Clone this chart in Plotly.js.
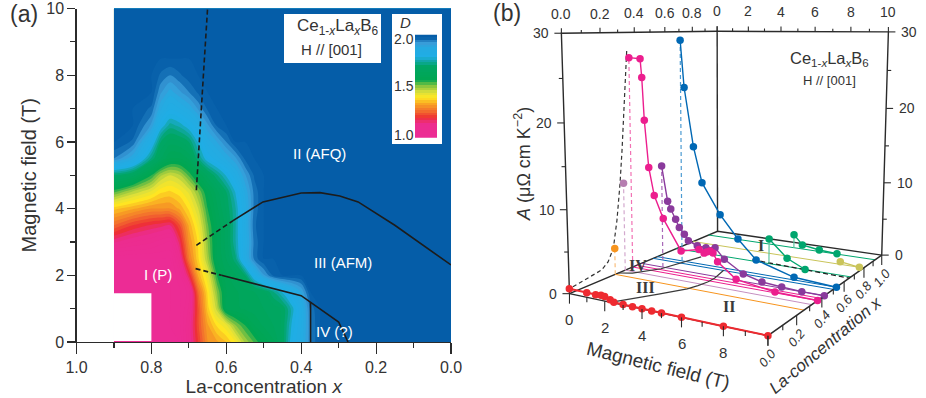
<!DOCTYPE html><html><head><meta charset="utf-8"><script src="https://cdn.plot.ly/plotly-3.0.1.min.js"></script>
<style>html,body{margin:0;padding:0;background:#fff}#g{width:926px;height:398px}</style></head><body><div id="g"></div>
<script>
// ---------- panel (a): D(x, H)
const mapX=[0.9,0.85,0.8,0.775,0.75,0.725,0.7,0.675,0.65,0.625,0.6,0.575,0.55,0.525,0.5,0.475,0.45,0.425,0.4,0.375,0.35,0];
const mapH=[0,0.5,1,1.5,2,2.5,3,3.5,4,4.5,5,5.5,6,6.5,7,7.5,8,8.5,10];
const mapD=[
[1,1,1,1,1,1,1.1,1.2,1.3,1.32,1.35,1.4,1.48,1.53,1.58,1.62,1.68,1.8,1.86,1.95,2,2],
[1,1,1,1,1,1.02,1.1,1.22,1.32,1.38,1.42,1.5,1.55,1.6,1.63,1.65,1.68,1.78,1.85,1.95,2,2],
[1,1,1,1,1,1.02,1.08,1.22,1.36,1.46,1.6,1.62,1.63,1.64,1.65,1.66,1.68,1.76,1.85,1.96,2,2],
[1,1,1,1,1,1.02,1.06,1.25,1.38,1.5,1.6,1.62,1.64,1.65,1.67,1.72,1.78,1.84,1.9,2,2,2],
[1,1,1,1,1,1.04,1.17,1.33,1.42,1.55,1.62,1.65,1.7,1.82,1.92,1.98,2,2,2,2,2,2],
[1,1,1,1,1,1.1,1.27,1.37,1.48,1.6,1.65,1.72,1.85,1.96,2,2,2,2,2,2,2,2],
[1.13,1.1,1.08,1.06,1.05,1.16,1.3,1.38,1.5,1.6,1.66,1.75,1.85,1.96,2,2,2,2,2,2,2,2],
[1.25,1.2,1.17,1.16,1.15,1.22,1.33,1.41,1.52,1.6,1.66,1.75,1.86,1.97,2,2,2,2,2,2,2,2],
[1.36,1.33,1.3,1.3,1.3,1.33,1.38,1.45,1.55,1.62,1.68,1.75,1.86,1.96,2,2,2,2,2,2,2,2],
[1.53,1.47,1.42,1.38,1.37,1.39,1.43,1.5,1.58,1.64,1.7,1.78,1.88,1.96,2,2,2,2,2,2,2,2],
[1.7,1.66,1.55,1.48,1.45,1.47,1.53,1.6,1.66,1.72,1.78,1.85,1.92,1.98,2,2,2,2,2,2,2,2],
[1.95,1.88,1.72,1.65,1.6,1.6,1.63,1.72,1.8,1.84,1.88,1.92,1.98,2,2,2,2,2,2,2,2,2],
[2,1.97,1.82,1.7,1.66,1.67,1.7,1.78,1.86,1.9,1.95,2,2,2,2,2,2,2,2,2,2,2],
[2,2,1.92,1.8,1.74,1.76,1.8,1.85,1.92,1.98,2,2,2,2,2,2,2,2,2,2,2,2],
[2,2,1.97,1.88,1.83,1.85,1.88,1.93,1.98,2,2,2,2,2,2,2,2,2,2,2,2,2],
[2,2,2,1.93,1.89,1.92,1.95,1.98,2,2,2,2,2,2,2,2,2,2,2,2,2,2],
[2,2,2,1.97,1.95,1.97,1.99,2,2,2,2,2,2,2,2,2,2,2,2,2,2,2],
[2,2,2,2,2,2,2,2,2,2,2,2,2,2,2,2,2,2,2,2,2,2],
[2,2,2,2,2,2,2,2,2,2,2,2,2,2,2,2,2,2,2,2,2,2]];
const barLevels=[1,1.025,1.05,1.075,1.1,1.125,1.15,1.175,1.2,1.225,1.25,1.275,1.3,1.325,1.35,1.375,1.4,1.425,1.45,1.475,1.5,1.525,1.55,1.575,1.6,1.625,1.65,1.675,1.7,1.725,1.75,1.775,1.8,1.825,1.85,1.875,1.9,1.925,1.95,1.975,2];
const dScale=[[0,'#EC2C95'],[0.13,'#EC2C8E'],[0.19,'#EE3033'],[0.25,'#F26A2E'],[0.32,'#F8A023'],[0.39,'#FFE822'],[0.44,'#DDE03A'],[0.5,'#8DC63F'],[0.56,'#00A651'],[0.7,'#00A665'],[0.75,'#12A7A8'],[0.79,'#1FAEE6'],[0.88,'#25AAE1'],[0.93,'#3A9BD8'],[0.97,'#0B66AE'],[1,'#055DA8']];
// phase boundaries (x, H)
const afmDashX=[0.68,0.582],afmDashH=[2.9,3.64];
const afmX=[0.582,0.502,0.4,0.35,0.297,0.248,0.15,0],afmH=[3.64,4.2,4.47,4.48,4.38,4.2,3.5,2.31];
const lowDashX=[0.682,0.613],lowDashH=[2.2,2.0];
const lowX=[0.613,0.4,0.3,0.275],lowH=[2.0,1.39,0.6,0];
const ivX=[0.375,0.375],ivH=[0,1.2];
const afqDashX=[0.68,0.67,0.662,0.65],afqDashH=[4.55,6.25,7.85,10];
// ---------- panel (b): A(H) at fixed x
const redX=0,redH=[0,1,1.5,1.8,2,2.3,2.5,3,3.5,4,4.5,5,6,8,10],redA=[0.6,0.55,0.53,0.6,0.55,0.3,0.1,0.05,0.04,0.03,0.02,0.02,0.01,0.01,0];
const orangeX=0.256,orangeH=[0],orangeA=[3.34];
const paleX=0.317,paleH=[0],paleA=[11.3];
const pinkX=0.364,pinkH=[0,0.66,0.74,0.85,1.07,1.37,1.88,2.89,3.9,4.18,4.33,4.51,4.67,4.92,5.91,7.92,10],pinkA=[26.9,26.8,24.5,19.2,13.3,9.8,7,3.2,3.75,3.4,3.6,3.8,3.6,2.6,0.8,0.1,0];
const purpleX=0.421,purpleH=[1.31,1.64,1.82,2.1,2.31,2.6,2.83,3.34,3.83,4.34,4.85,5.88,6.87,7.89,8.9,10],purpleA=[13.25,8.78,7.83,6.6,5.58,4.79,4.04,3.57,3.49,3.68,2.39,0.93,0.34,0.15,0.01,0];
const blueX=0.528,blueH=[1.54,1.75,2.27,2.76,3.8,4.81,5.82,7.85,10],blueA=[29,23,15.45,10.86,6.96,4.12,1.76,0.34,0];
const greenX=0.666,greenH=[5.6,6.61,7.6],greenA=[3.32,1.11,0];
const oliveX=0.796,oliveH=[8.76,9.78],oliveA=[0.36,0];
const teal2X=0.923,teal2H=[5.4,5.9,6.89,7.9],teal2A=[1.88,0.57,0.21,0.06];
const wallX=[0.019,0.084,0.177,0.215,0.248,0.273,0.296,0.312,0.33,0.352],wallA=[0.66,0.87,1.27,1.96,3.44,6.87,11.4,15.53,21.72,27.85];
const colRed='#EE2A30',colOrange='#F7941D',colPale='#B57EB0',colPink='#EC1E8E',colPurple='#8A3A9C',colBlue='#0068B4',colGreen='#00A66E',colOlive='#C9C45A';
const floorX=[orangeX,paleX,pinkX,0.39,purpleX,0.5,blueX,greenX,oliveX,teal2X],floorCol=[colOrange,'#C58FC0',colPink,colPink,colPurple,colBlue,colBlue,colGreen,colOlive,colGreen];
// ---------- camera of the 3-D box: (H,x,A) -> canvas, fitted to box anchors
const anchors=[[0,0,0,569,293.5],[10,0,0,768,335],[10,1,0,881,254.5],[0,1,0,717,231],[0,0,30,561,33],[0,1,30,717,31],[10,1,30,888,32],[0,.2,30,599,33],[0,.4,30,633.3,32.5],[0,.6,30,665.7,32],[0,.8,30,694.3,31.5],[2,1,30,748,31.8],[4,1,30,781,31.8],[6,1,30,815,32],[8,1,30,851,32],[2,0,0,605,301],[4,0,0,642.7,309],[6,0,0,681.7,317],[8,0,0,724,326],[10,.2,0,796.7,315],[10,.4,0,821.7,298],[10,.6,0,843,283.5],[10,.8,0,865,269],[0,0,10,567,210],[0,0,20,564,123],[10,1,10,884.5,182],[10,1,20,886,107]];
function solve(A,b){const n=b.length;A=A.map((r,i)=>[...r,b[i]]);for(let i=0;i<n;i++){let p=i;for(let k=i;k<n;k++)if(Math.abs(A[k][i])>Math.abs(A[p][i]))p=k;[A[i],A[p]]=[A[p],A[i]];for(let k=0;k<n;k++)if(k!=i){const f=A[k][i]/A[i][i];for(let j=i;j<=n;j++)A[k][j]-=f*A[i][j];}}return A.map((r,i)=>r[n]/r[i]);}
const cam=(()=>{let rows=[],rhs=[];for(const [H,x,a,X,Y] of anchors){rows.push([H,x,a,1,0,0,0,0,-X*H,-X*x,-X*a]);rhs.push(X);rows.push([0,0,0,0,H,x,a,1,-Y*H,-Y*x,-Y*a]);rhs.push(Y);}
const n=11;let N=Array.from({length:n},()=>Array(n).fill(0)),v=Array(n).fill(0);rows.forEach((r,k)=>{for(let i=0;i<n;i++){v[i]+=r[i]*rhs[k];for(let j=0;j<n;j++)N[i][j]+=r[i]*r[j];}});return solve(N,v);})();
const P=(H,x,a)=>{const w=cam[8]*H+cam[9]*x+cam[10]*a+1;return[(cam[0]*H+cam[1]*x+cam[2]*a+cam[3])/w,(cam[4]*H+cam[5]*x+cam[6]*a+cam[7])/w];};
const W=926,Ht=398;
const traces=[];
function path3(pts,style,marker){const q=pts.map(p=>P(p[0],p[1],p[2]));const t={type:'scatter',mode:marker?'lines+markers':'lines',x:q.map(a=>a[0]),y:q.map(a=>a[1]),xaxis:'x',yaxis:'y',line:style,hoverinfo:'skip',showlegend:false};if(marker)t.marker=marker;traces.push(t);}
const dark='#2b2b2b';
// tick lists
const hMajor=[0,2,4,6,8,10],hMinor=[1,3,5,7,9],xMajor=[0,.2,.4,.6,.8,1],xMinor=[.1,.3,.5,.7,.9],aMajor=[0,10,20,30],aMinor=[5,15,25];
function ticks(list,fn,dx,dy){const x=[],y=[];list.forEach(v=>{const p=fn(v);x.push(p[0],p[0]+dx,null);y.push(p[1],p[1]+dy,null);});traces.push({type:'scatter',mode:'lines',x,y,xaxis:'x',yaxis:'y',line:{color:dark,width:1.1},hoverinfo:'skip',showlegend:false});}
// panel (a) traces
traces.push({type:'contour',x:mapX,y:mapH,z:mapD,xaxis:'x2',yaxis:'y2',zmin:1,zmax:2,autocontour:false,colorscale:dScale,showscale:false,line:{width:0,smoothing:0.9},contours:{start:1,end:2,size:0.025,coloring:'fill',showlines:false},hoverinfo:'skip'});
const lineA=(x,y,dash)=>traces.push({type:'scatter',mode:'lines',x,y,xaxis:'x2',yaxis:'y2',line:{color:'#1c1c1c',width:1.6,dash:dash||'solid'},hoverinfo:'skip',showlegend:false});
lineA(afmDashX,afmDashH,'5px,3px');lineA(afmX,afmH);lineA(lowDashX,lowDashH,'5px,3px');lineA(lowX,lowH);lineA(ivX,ivH);lineA(afqDashX,afqDashH,'5px,3px');
traces.push({type:'heatmap',x:[415,426,437],y:barLevels,z:barLevels.map(v=>[v,v]),zmin:1,zmax:2,colorscale:dScale,showscale:false,xaxis:'x3',yaxis:'y3',hoverinfo:'skip'});
// panel (b): box
const fr={color:dark,width:1.4};
path3([[0,0,0],[0,1,0],[10,1,0]],fr);
floorX.forEach((x,i)=>path3([[0,x,0],[10,x,0]],{color:floorCol[i],width:1}));
path3([[0,0,0],[0,0,30],[0,1,30],[10,1,30],[10,1,0]],fr);path3([[0,1,0],[0,1,30]],fr);
path3([[0,0,0],[10,0,0],[10,1,0]],fr);
path3(afmX.map((x,i)=>[afmH[i],x,0]).filter(p=>p[1]<0.55),{color:'#3a3a3a',width:1.2});
path3(lowX.map((x,i)=>[lowH[i],x,0]),{color:'#3a3a3a',width:1.2});
path3(afqDashX.map((x,i)=>[afqDashH[i],x,0]),{color:'#222',width:1.3,dash:'5px,3px'});
path3(wallX.map((x,i)=>[0,x,wallA[i]]),{color:'#333',width:1.2,dash:'4px,3px'});
// droplines
const drop=(x,H,A,c,dash)=>path3([[H,x,0],[H,x,A]],{color:c,width:1.2,dash:dash?'4px,3px':'solid'});
drop(orangeX,0,orangeA[0],'#F9BE7C',1);drop(paleX,0,paleA[0],'#D3A9CE',1);drop(pinkX,0,pinkA[0],'#F272B4',1);drop(purpleX,purpleH[0],purpleA[0],'#A868B8',1);drop(blueX,blueH[0],blueA[0],'#4C9BD2',1);
drop(greenX,greenH[0],greenA[0],'#5CC59F');drop(teal2X,teal2H[0],teal2A[0],'#5CC59F');drop(oliveX,oliveH[0],oliveA[0],colOlive);
const ser=(x,Hs,As,c,s)=>path3(Hs.map((H,i)=>[H,x,As[i]]),{color:c,width:s||1.4},{color:c,size:7.5});
ser(teal2X,teal2H,teal2A,colGreen);ser(oliveX,oliveH,oliveA,colOlive);ser(greenX,greenH,greenA,colGreen);ser(blueX,blueH,blueA,colBlue);ser(purpleX,purpleH,purpleA,colPurple);ser(pinkX,pinkH,pinkA,colPink);ser(paleX,paleH,paleA,colPale);ser(orangeX,orangeH,orangeA,colOrange);ser(redX,redH,redA,colRed,2);
// ticks of box
ticks(aMajor,a=>P(0,0,a),-7,0);ticks(aMinor,a=>P(0,0,a),-4,0);ticks(aMajor,a=>P(10,1,a),7,0);ticks(aMinor,a=>P(10,1,a),4,0);
ticks(xMajor,x=>P(0,x,30),0,-5);ticks(xMinor,x=>P(0,x,30),0,-3);ticks(hMajor,h=>P(h,1,30),0,-5);ticks(hMinor,h=>P(h,1,30),0,-3);
ticks(hMajor,h=>P(h,0,0),0,10);ticks(hMinor,h=>P(h,0,0),0,5);ticks(xMajor,x=>P(10,x,0),0,10);ticks(xMinor,x=>P(10,x,0),0,5);
// texts
const ff="Arial, 'Liberation Sans', sans-serif",txt='#333';
const ann=[];
const T=(px,py,text,size,o)=>ann.push(Object.assign({xref:'x',yref:'y',x:px,y:py,text,showarrow:false,font:{family:ff,size,color:txt},xanchor:'center',yanchor:'middle'},o||{}));
const Pa=(px,py,text,size,o)=>ann.push(Object.assign({xref:'paper',yref:'paper',x:px/W,y:1-py/Ht,text,showarrow:false,font:{family:ff,size,color:txt},xanchor:'center',yanchor:'middle'},o||{}));
const ce='Ce<sub>1-<i>x</i></sub>La<sub><i>x</i></sub>B<sub>6</sub>';
Pa(24,14,'(a)',23);Pa(507,13,'(b)',23);
Pa(337,27,ce,17);Pa(331,50,'H // [001]',15);Pa(405,22,'<i>D</i>',15);
Pa(404,39,'2.0',14);Pa(404,86,'1.5',14);Pa(404,135,'1.0',14);
const wh={font:{family:ff,size:15,color:'#fff'}};
Pa(319,153,'II (AFQ)',15,wh);Pa(343,262,'III (AFM)',15,wh);Pa(158,274,'I (P)',15,wh);Pa(334,331,'IV (?)',15,wh);
T(829,59,ce,16.5);T(829,80,'H // [001]',13);
T(522,164,'<i>A</i> (μΩ cm K<sup>−2</sup>)',18,{textangle:-90});
aMajor.forEach(a=>{const p=P(0,0,a),q=P(10,1,a);T(p[0]-10,p[1],String(a),14,{xanchor:'right'});T(q[0]+11,q[1],String(a),14,{xanchor:'left'});});
xMajor.forEach(x=>{const t=P(0,x,30),b=P(10,x,0);if(x<1)T(t[0],t[1]-19,x.toFixed(1),14);T(b[0],b[1]+22,'<i>'+x.toFixed(1)+'</i>',13,{textangle:-50});});
hMajor.forEach(h=>{const t=P(h,1,30),b=P(h,0,0);T(t[0],t[1]-20,String(h),14);if(h<10)T(b[0],b[1]+26,String(h),15);});
T(658,365,'Magnetic field (T)',19,{textangle:14});
T(825,345,'<i>La-concentration x</i>',17,{textangle:-40});
const rn={font:{family:"'Liberation Serif', serif",size:16,color:'#3a3a3a'}};
T(761,245,'<b>I</b>',16,rn);T(638,265,'<b>IV</b>',16,rn);T(645,287,'<b>III</b>',16,rn);T(729,306,'<b>II</b>',16,rn);
const ticksA={tickfont:{family:ff,size:16,color:txt},ticks:'outside',tickcolor:dark,linecolor:dark,showline:true,linewidth:1.2,tickwidth:1.2,showgrid:false,zeroline:false};
const layout={width:W,height:Ht,margin:{l:0,r:0,t:0,b:0},paper_bgcolor:'#fff',plot_bgcolor:'#fff',showlegend:false,
 xaxis:{domain:[462/W,1],range:[462,926],visible:false,fixedrange:true},
 yaxis:{domain:[0,1],range:[398,0],visible:false,fixedrange:true},
 xaxis2:Object.assign({domain:[76.5/W,451/W],range:[1,0],anchor:'y2',tickvals:xMajor,tickformat:'.1f',ticklen:11,minor:{tickvals:xMinor,ticklen:5,ticks:'outside',tickcolor:dark,tickwidth:1.2},title:{text:'La-concentration <i>x</i>',font:{family:ff,size:19,color:txt},standoff:1}},ticksA),
 yaxis2:Object.assign({domain:[1-342/Ht,1-8.5/Ht],range:[0,10],anchor:'x2',tickvals:hMajor,ticklen:8,minor:{tickvals:hMinor,ticklen:5,ticks:'outside',tickcolor:dark,tickwidth:1.2},title:{text:'Magnetic field (T)',font:{family:ff,size:20,color:txt},standoff:4}},ticksA),
 xaxis3:{domain:[392/W,442/W],range:[392,442],anchor:'y3',visible:false,fixedrange:true},
 yaxis3:{domain:[1-144/Ht,1-14/Ht],range:[0.92,2.22],anchor:'x3',visible:false,fixedrange:true},
 shapes:[
  {type:'rect',xref:'x2',yref:'y2',x0:0.9,x1:0.8,y0:0.03,y1:1.46,fillcolor:'#fff',line:{width:0},layer:'above'},
  {type:'rect',xref:'paper',yref:'paper',x0:284/W,x1:381/W,y0:1-63/Ht,y1:1-14/Ht,fillcolor:'#fff',line:{width:0},layer:'above'}],
 annotations:ann};
Plotly.newPlot('g',traces,layout,{staticPlot:true,displayModeBar:false});
</script></body></html>
